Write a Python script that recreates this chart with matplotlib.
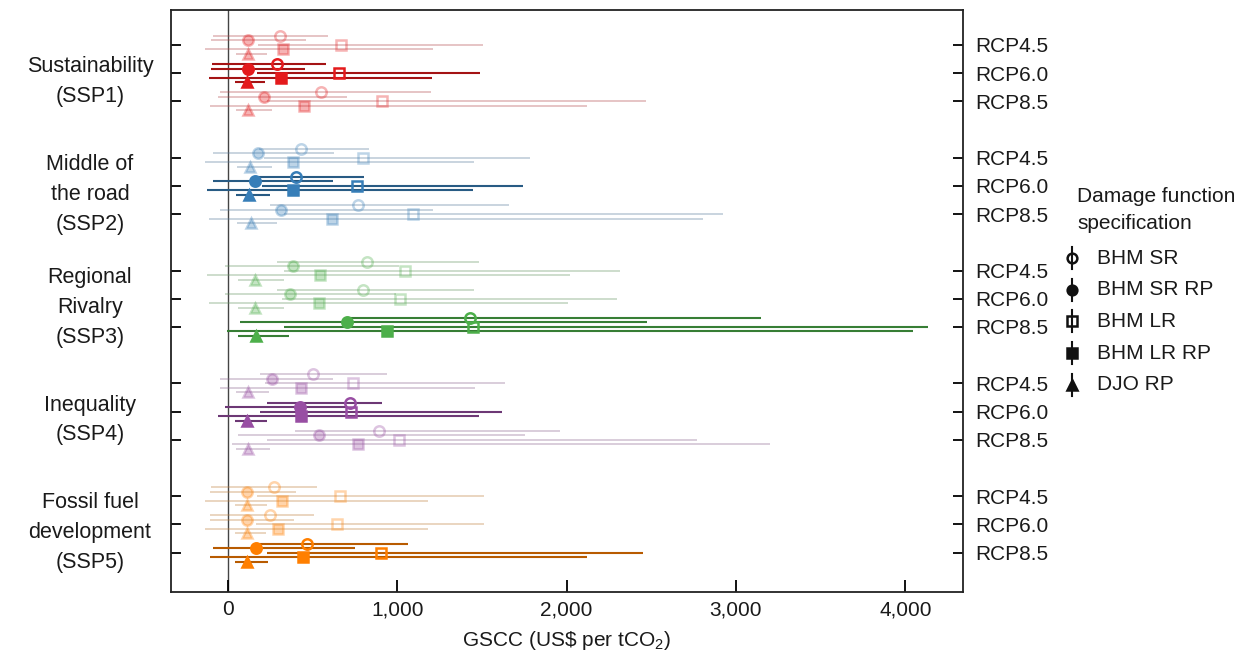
import matplotlib
matplotlib.use('Agg')
import matplotlib.pyplot as plt
import numpy as np
from matplotlib.colors import to_rgb
import matplotlib.transforms as mtransforms

plt.rcParams['font.family'] = ['Liberation Sans', 'DejaVu Sans']
plt.rcParams['mathtext.fontset'] = 'custom'
plt.rcParams['mathtext.rm'] = 'Liberation Sans'
plt.rcParams['mathtext.default'] = 'regular'

# ---------------- data ----------------
ssp_labels = ['Sustainability\n(SSP1)', 'Middle of\nthe road\n(SSP2)', 'Regional\nRivalry\n(SSP3)',
              'Inequality\n(SSP4)', 'Fossil fuel\ndevelopment\n(SSP5)']
ssp_colors = ['#e41a1c', '#377eb8', '#4daf4a', '#984ea3', '#ff7f00']
rcp_labels = ['RCP4.5', 'RCP6.0', 'RCP8.5']
highlight_rcp = [1, 1, 2, 1, 2]
damage_labels = ['BHM SR', 'BHM SR RP', 'BHM LR', 'BHM LR RP', 'DJO RP']
xticks = [0, 1000, 2000, 3000, 4000]
xtick_labels = ['0', '1,000', '2,000', '3,000', '4,000']

# rows: SSP1 (4.5, 6.0, 8.5), SSP2 (...), ..., SSP5 (...)
sr_med = [305, 290, 550, 430, 400, 770, 820, 800, 1430, 500, 720, 890, 272, 250, 465]
sr_lo = [-90, -95, -45, 180, 175, 250, 290, 290, 700, 190, 230, 395, -100, -105, 190]
sr_hi = [590, 580, 1200, 830, 805, 1660, 1480, 1450, 3150, 940, 910, 1960, 525, 510, 1065]

srrp_med = [120, 115, 215, 175, 160, 315, 385, 365, 705, 260, 425, 535, 112, 110, 165]
srrp_lo = [-100, -100, -60, -90, -90, -45, -20, -20, 70, -50, -20, 60, -105, -105, -90]
srrp_hi = [460, 455, 700, 625, 620, 1210, 1010, 990, 2475, 620, 700, 1755, 400, 390, 750]

lr_med = [665, 655, 910, 795, 760, 1090, 1045, 1015, 1445, 740, 725, 1010, 660, 645, 905]
lr_lo = [175, 170, 230, 210, 200, 330, 330, 320, 330, 220, 190, 230, 170, 165, 230]
lr_hi = [1505, 1490, 2470, 1785, 1745, 2925, 2315, 2300, 4135, 1635, 1620, 2770, 1510, 1510, 2450]

lrrp_med = [325, 310, 450, 385, 385, 615, 545, 535, 940, 430, 430, 770, 320, 295, 445]
lrrp_lo = [-135, -115, -105, -135, -125, -110, -125, -110, -5, -50, -60, 25, -135, -135, -105]
lrrp_hi = [1210, 1205, 2120, 1450, 1445, 2805, 2020, 2010, 4045, 1460, 1485, 3200, 1180, 1180, 2120]

djo_med = [115, 110, 120, 130, 125, 135, 160, 160, 165, 118, 112, 118, 112, 110, 112]
djo_lo = [45, 40, 45, 50, 45, 50, 60, 60, 60, 45, 40, 45, 40, 40, 40]
djo_hi = [230, 220, 260, 260, 250, 290, 330, 330, 360, 240, 230, 250, 230, 225, 235]

meds = [sr_med, srrp_med, lr_med, lrrp_med, djo_med]
los = [sr_lo, srrp_lo, lr_lo, lrrp_lo, djo_lo]
his = [sr_hi, srrp_hi, lr_hi, lrrp_hi, djo_hi]

# ---------------- style ----------------
markers = ['o', 'o', 's', 's', '^']
filled = [False, True, False, True, True]
msizes = [7.5, 7.5, 7.5, 7, 7.5]
offsets = [-0.32, -0.16, 0.0, 0.16, 0.32]
FS = 15

W, H = 1249, 653
fig = plt.figure(figsize=(W / 100, H / 100), dpi=100)
ax = fig.add_axes([171 / W, 1 - 592 / H, (963 - 171) / W, (592 - 10) / H])

positions = []
for g in range(len(ssp_labels)):
    for r in range(len(rcp_labels)):
        positions.append(g * 4 + r)

def darken(c, f):
    rgb = np.array(to_rgb(c))
    return tuple(rgb * f)

def mix(c, other, f):
    a = np.array(to_rgb(c)); b = np.array(to_rgb(other))
    return tuple(a * (1 - f) + b * f)

for k, pos in enumerate(positions):
    g, r = divmod(k, 3)
    col = ssp_colors[g]
    hl = (r == highlight_rcp[g])
    if hl:
        lcol = darken(col, 0.72)
        alpha = 1.0
        z = 5
        lw = 1.5
    else:
        lcol = mix(col, '#808080', 0.5)
        alpha = 0.33
        z = 2
        lw = 1.4
    for d in range(5):
        y = pos + offsets[d]
        ax.hlines(y, los[d][k], his[d][k], color=lcol, lw=lw, alpha=alpha, zorder=z)
    for d in range(5):
        y = pos + offsets[d]
        ax.plot([meds[d][k]], [y], marker=markers[d], ms=msizes[d],
                mfc=(col if filled[d] else 'none'), mec=col, mew=1.8,
                alpha=alpha, linestyle='none', zorder=z + 1)

ax.axvline(0, color='#444444', lw=1.0, zorder=1)

ax.set_xlim(-337, 4341)
ax.set_ylim(19.4, -1.24)
ax.set_xticks(xticks)
ax.set_xticklabels(xtick_labels, fontsize=FS, color='#1a1a1a')
ax.set_yticks(positions)
ax.set_yticklabels(rcp_labels * len(ssp_labels), fontsize=FS, color='#1a1a1a')
ax.tick_params(axis='x', direction='in', length=9, width=1.3, pad=6)
ax.tick_params(axis='y', direction='in', length=7, width=1.3, left=True, right=True,
               labelleft=False, labelright=True, pad=9)
for sp in ax.spines.values():
    sp.set_linewidth(1.3)
    sp.set_color('#222222')

ax.set_xlabel('GSCC (US\\$ per tCO$_2$)', fontsize=FS, color='#1a1a1a', labelpad=7)

trans = mtransforms.blended_transform_factory(fig.transFigure, ax.transData)
for g, lab in enumerate(ssp_labels):
    ax.text(90 / W, g * 4 + 1.3, lab, transform=trans, ha='center', va='center',
            fontsize=FS + 0.5, linespacing=1.55, color='#1a1a1a', multialignment='center')

# ---------------- legend ----------------
lax = fig.add_axes([1050 / W, 1 - 405 / H, (W - 1050) / W, 230 / H])
lax.set_xlim(1050, W)
lax.set_ylim(405, 175)
lax.axis('off')
lax.text(1077, 210, 'Damage function\nspecification', ha='left', va='center',
         fontsize=FS, linespacing=1.55, color='#1a1a1a')
for i, lab in enumerate(damage_labels):
    y = 258 + 31.7 * i
    lax.plot([1072, 1072], [y - 11, y + 11], color='#111111', lw=1.5)
    lax.plot([1072], [y], marker=markers[i], ms=msizes[i] - 0.5,
             mfc=('#111111' if filled[i] else 'none'), mec='#111111', mew=1.8,
             linestyle='none')
    lax.text(1097, y, lab, ha='left', va='center', fontsize=FS, color='#1a1a1a')

fig.savefig('out.png', dpi=100)
